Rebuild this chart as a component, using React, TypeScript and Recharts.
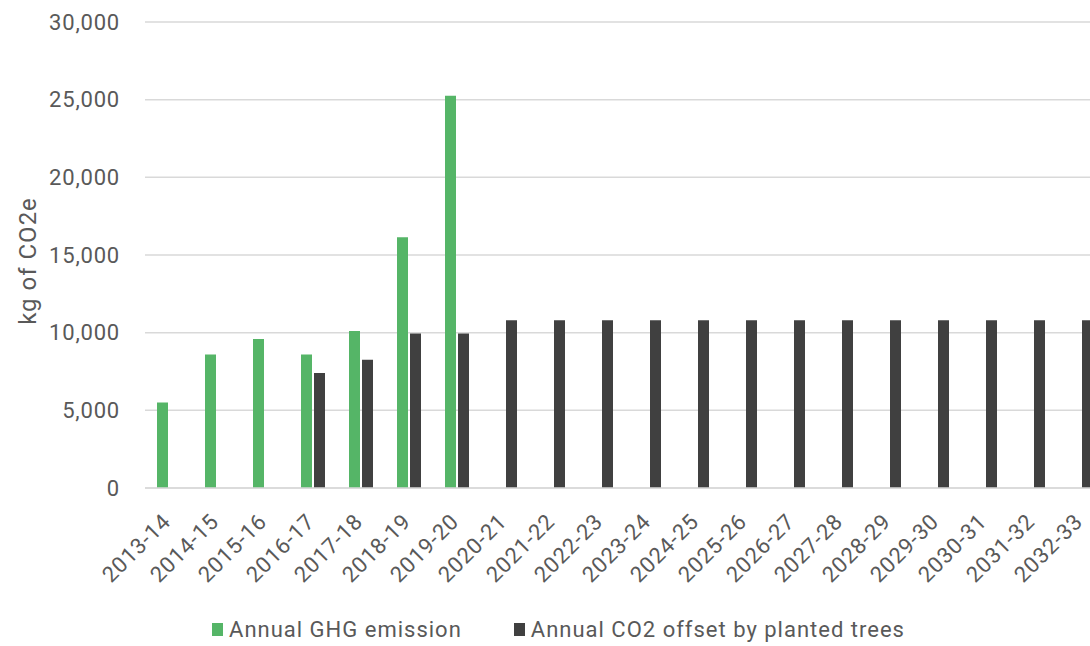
import React from 'react';
import { BarChart, Bar, XAxis, YAxis, CartesianGrid, Legend } from 'recharts';

const categories = ['2013-14','2014-15','2015-16','2016-17','2017-18','2018-19','2019-20','2020-21','2021-22','2022-23','2023-24','2024-25','2025-26','2026-27','2027-28','2028-29','2029-30','2030-31','2031-32','2032-33'];
const ghgEmission: (number | null)[] = [5500, 8600, 9600, 8600, 10100, 16150, 25250, null, null, null, null, null, null, null, null, null, null, null, null, null];
const co2Offset: (number | null)[] = [null, null, null, 7400, 8250, 9950, 9950, 10800, 10800, 10800, 10800, 10800, 10800, 10800, 10800, 10800, 10800, 10800, 10800, 10800];
const yTicks = [0, 5000, 10000, 15000, 20000, 25000, 30000];

const data = categories.map((c, i) => ({ cat: c, ghg: ghgEmission[i], co2: co2Offset[i] }));

const GREEN = '#55B567';
const DARK = '#404040';
const TEXT = '#595959';
const FONT = 'Roboto, sans-serif';

const XTick = (props: any) => {
  const { x, y, payload } = props;
  const bx = x + 3;
  const by = y + 35;
  return (
    <text x={bx} y={by} transform={`rotate(-45 ${bx} ${by})`} textAnchor="end" fill={TEXT} fontSize={22} fontFamily={FONT} letterSpacing={0.8}>
      {payload.value}
    </text>
  );
};

const LegendContent = () => (
  <div style={{ display: 'flex', justifyContent: 'center', alignItems: 'center', height: 30, fontFamily: FONT, fontSize: 22, letterSpacing: 1, color: TEXT, paddingLeft: 12 }}>
    <div style={{ display: 'flex', alignItems: 'center', marginRight: 52 }}>
      <span style={{ width: 11, height: 13, background: GREEN, display: 'inline-block', marginRight: 6 }} />
      <span>Annual GHG emission</span>
    </div>
    <div style={{ display: 'flex', alignItems: 'center' }}>
      <span style={{ width: 11, height: 13, background: DARK, display: 'inline-block', marginRight: 6 }} />
      <span>Annual CO2 offset by planted trees</span>
    </div>
  </div>
);

const YLabel = (props: any) => {
  const { viewBox } = props;
  const cx = viewBox.x + 28;
  const cy = viewBox.y + viewBox.height / 2 + 6;
  return (
    <text x={cx} y={cy} transform={`rotate(-90 ${cx} ${cy})`} textAnchor="middle" dominantBaseline="central" fill={TEXT} fontSize={24} fontFamily={FONT} letterSpacing={1}>
      kg of CO2e
    </text>
  );
};

export default function App() {
  return (
    <div style={{ position: 'absolute', left: 0, top: 0, width: 1090, height: 646, overflow: 'hidden', background: '#fff' }}>
      <BarChart width={1110} height={646} data={data} margin={{ top: 22, right: 5, bottom: 2, left: 0 }} barGap={2} barSize={11}>
        <CartesianGrid vertical={false} stroke="#d9d9d9" strokeWidth={1.5} />
        <XAxis dataKey="cat" interval={0} tickLine={false} tickSize={0} tickMargin={0} axisLine={{ stroke: '#d9d9d9', strokeWidth: 1.5 }} height={126} tick={<XTick />} />
        <YAxis width={145} domain={[0, 30000]} ticks={yTicks} tickLine={false} axisLine={false} tickSize={0} tickMargin={25}
          tickFormatter={(v: number) => v.toLocaleString('en-US')}
          tick={{ fill: TEXT, fontSize: 22, fontFamily: FONT, letterSpacing: 0.8 } as any}
          label={<YLabel />} />
        <Legend verticalAlign="bottom" height={30} content={<LegendContent />} />
        <Bar dataKey="ghg" fill={GREEN} isAnimationActive={false} />
        <Bar dataKey="co2" fill={DARK} isAnimationActive={false} />
      </BarChart>
    </div>
  );
}
